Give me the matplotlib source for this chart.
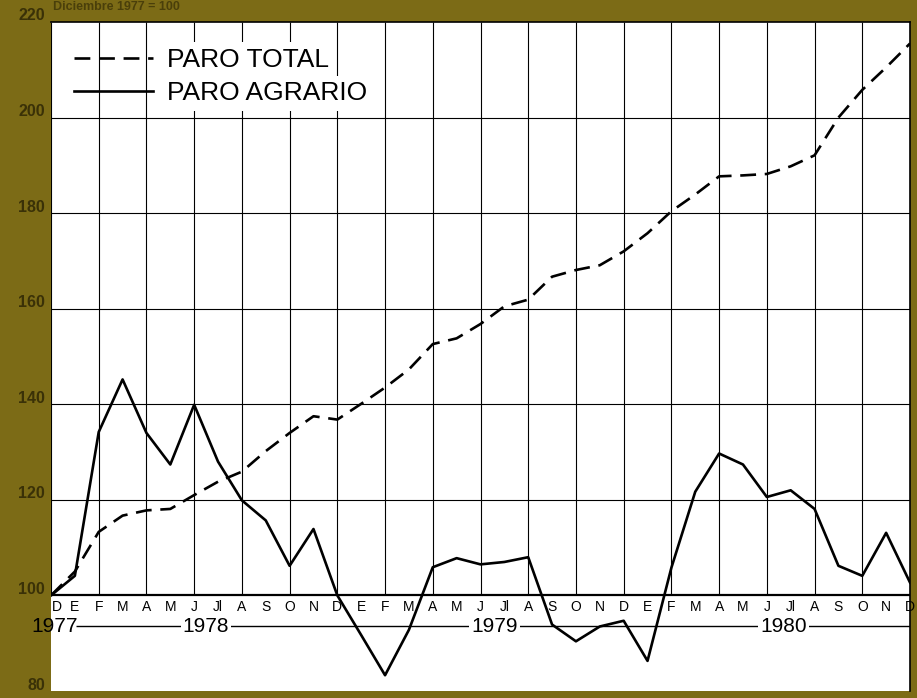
import matplotlib
matplotlib.use('Agg')
import matplotlib.pyplot as plt
from matplotlib.transforms import ScaledTranslation

# months from December 1977 to December 1980
months = ['D', 'E', 'F', 'M', 'A', 'M', 'J', 'Jl', 'A', 'S', 'O', 'N',
          'D', 'E', 'F', 'M', 'A', 'M', 'J', 'Jl', 'A', 'S', 'O', 'N',
          'D', 'E', 'F', 'M', 'A', 'M', 'J', 'Jl', 'A', 'S', 'O', 'N', 'D']

paro_total = [100, 105, 113.3, 116.7, 117.8, 118.1, 121, 123.8, 125.9, 130.2, 134, 137.5,
              136.8, 140.1, 143.5, 147.3, 152.6, 153.8, 156.8, 160.5, 161.9, 166.7, 168.1, 169.1,
              172, 175.8, 180.4, 183.9, 187.7, 187.9, 188.2, 189.8, 192.1, 200, 205.8, 210.5, 215.5]

paro_agrario = [100, 104.1, 134.2, 145.2, 134, 127.4, 139.9, 128, 119.9, 115.7, 106.2, 113.9,
                100, 91.7, 83.3, 92.8, 105.9, 107.8, 106.5, 107, 108, 93.9, 90.4, 93.5,
                94.7, 86.3, 105.8, 121.7, 129.7, 127.4, 120.6, 122, 118.1, 106.2, 104.1, 113.1, 102.7]

years = ['1977', '1978', '1979', '1980']
year_pos = [0.15, 6.5, 18.6, 30.7]

yticks = [80, 100, 120, 140, 160, 180, 200, 220]

OLIVE = '#7c6b16'
DARK = '#3a3107'

plt.rcParams['font.family'] = ['Liberation Sans', 'DejaVu Sans']

fig = plt.figure(figsize=(9.17, 6.98), dpi=100, facecolor=OLIVE)
ax = fig.add_axes([51/917, 1 - 691/698, 859/917, 669/698])
ax.set_facecolor('white')
x = list(range(len(months)))

# grid: verticals every two months above the 100 line, horizontals 120..200
ax.vlines(range(0, 37, 2), 100, 220, color='black', lw=0.8, zorder=1)
ax.hlines(yticks[2:-1], 0, 36, color='black', lw=0.8, zorder=1)
ax.hlines(100, 0, 36, color='black', lw=1.6, zorder=1)

# year line under the month letters
ax.hlines(93.6, 1.05, 36, color='black', lw=1.0, zorder=2)
for yr, p in zip(years, year_pos):
    ax.text(p, 93.6, yr, ha='center', va='center', fontsize=15, color='black',
            bbox=dict(fc='white' if yr != '1977' else 'none', ec='none', pad=1.5),
            zorder=3, clip_on=False)

for i, m in enumerate(months):
    ha = 'center'
    xi = i
    if i == 0:
        xi = 0.05
        ha = 'left'
    ax.text(xi, 97.6, m, ha=ha, va='center', fontsize=10, color='black', zorder=3)

ax.plot(x, paro_total, color='black', lw=1.9, dashes=(6, 3.3), label='PARO TOTAL', zorder=4)
ax.plot(x, paro_agrario, color='black', lw=1.9, label='PARO AGRARIO', zorder=4)

ax.set_xlim(0, 36)
ax.set_ylim(80, 220)
ax.set_xticks([])
ax.set_yticks([])
for s in ['left', 'bottom']:
    ax.spines[s].set_visible(False)
for s in ['top', 'right']:
    ax.spines[s].set_linewidth(1.2)

# y labels sit a little above their grid lines
off = ScaledTranslation(0, 6/100, fig.dpi_scale_trans)
for v in yticks:
    ax.text(-0.007, v, str(v), transform=ax.get_yaxis_transform() + off,
            ha='right', va='center', fontsize=11.5, fontweight='bold', color=DARK)

leg = ax.legend(loc='upper left', bbox_to_anchor=(0.011, 0.981), frameon=False,
                fontsize=19, handlelength=3.0, handletextpad=0.55, labelspacing=0.36,
                borderpad=0)
leg.set_zorder(5)
for t in leg.get_texts():
    t.set_bbox(dict(fc='white', ec='none', pad=4))

fig.text(53/917, 1 - 1/698, 'Diciembre 1977 = 100', ha='left', va='top',
         fontsize=9, fontweight='bold', color='#4a3f0a')

fig.savefig('out.png', dpi=100, facecolor=OLIVE)
